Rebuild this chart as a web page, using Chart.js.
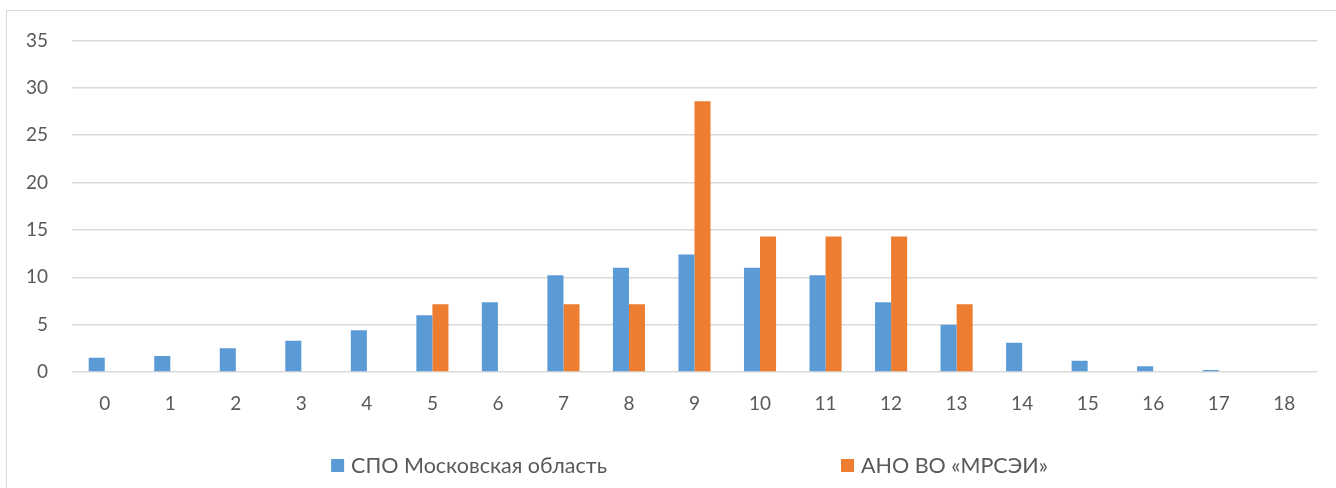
<!DOCTYPE html>
<html>
<head>
<meta charset="utf-8">
<script src="https://cdn.jsdelivr.net/npm/chart.js@4/dist/chart.umd.min.js"></script>
<style>
    html, body { margin: 0; padding: 0; background: #fff; overflow: hidden; }
    #frame {
        position: absolute;
        left: 6px;
        top: 10px;
        width: 1340px;
        height: 490px;
        border: 1px solid #d9d9d9;
    }
    #box { position: absolute; left: 7px; top: 5px; width: 1329px; height: 483px; }
</style>
</head>
<body>
<div id="frame"></div>
<div id="box"><canvas id="chart"></canvas></div>
<script>
    // Scores 0..18, share of respondents, %
    const categories = ['0', '1', '2', '3', '4', '5', '6', '7', '8', '9', '10', '11', '12', '13', '14', '15', '16', '17', '18'];
    const seriesNames = ['СПО Московская область', 'АНО ВО «МРСЭИ»'];
    const spoValues = [1.5, 1.7, 2.5, 3.3, 4.4, 6.0, 7.35, 10.2, 11.0, 12.4, 11.0, 10.2, 7.35, 5.0, 3.1, 1.2, 0.6, 0.2, 0];
    const mrseiValues = [0, 0, 0, 0, 0, 7.14, 0, 7.14, 7.14, 28.57, 14.29, 14.29, 14.29, 7.14, 0, 0, 0, 0, 0];
    const yTicks = [0, 5, 10, 15, 20, 25, 30, 35];

    const textColor = '#595959';
    const gridColor = '#d9d9d9';

    // legend drawn like Excel: two items spread wide under the plot
    const wideLegend = {
        id: 'wideLegend',
        afterDraw(chart) {
            const { ctx, chartArea } = chart;
            const box = 13, gapText = 7, gapItems = 234;
            ctx.save();
            ctx.font = '21.5px Lato';
            ctx.textBaseline = 'middle';
            const items = chart.data.datasets.map(ds => ({
                text: ds.label,
                color: ds.backgroundColor,
                w: box + gapText + ctx.measureText(ds.label).width
            }));
            const total = items.reduce((s, it) => s + it.w, 0) + gapItems * (items.length - 1);
            let x = (chartArea.left + chartArea.right) / 2 - total / 2 - 5;
            const y = chartArea.bottom + 93.5;
            items.forEach(it => {
                ctx.fillStyle = it.color;
                ctx.fillRect(x, y - box / 2, box, box);
                ctx.fillStyle = textColor;
                ctx.fillText(it.text, x + box + gapText, y + 1);
                x += it.w + gapItems;
            });
            ctx.restore();
        }
    };

    new Chart(document.getElementById('chart'), {
        type: 'bar',
        data: {
            labels: categories,
            datasets: [
                {
                    label: seriesNames[0],
                    data: spoValues,
                    backgroundColor: '#5b9bd5',
                    categoryPercentage: 0.49,
                    barPercentage: 1.0
                },
                {
                    label: seriesNames[1],
                    data: mrseiValues,
                    backgroundColor: '#ed7d31',
                    categoryPercentage: 0.49,
                    barPercentage: 1.0
                }
            ]
        },
        options: {
            responsive: true,
            maintainAspectRatio: false,
            animation: false,
            layout: { padding: { top: 0, right: 19, bottom: 62, left: 0 } },
            plugins: {
                legend: { display: false },
                tooltip: { enabled: false }
            },
            scales: {
                x: {
                    grid: { display: false },
                    border: { display: false },
                    ticks: {
                        font: { family: 'Lato', size: 19 },
                        color: textColor,
                        padding: 12,
                        maxRotation: 0
                    },
                    afterFit: s => { s.height = 54; }
                },
                y: {
                    min: 0,
                    max: 35,
                    afterBuildTicks: s => { s.ticks = yTicks.map(v => ({ value: v })); },
                    grid: { color: gridColor, lineWidth: 1.5, drawTicks: false },
                    border: { display: false },
                    ticks: {
                        font: { family: 'Lato', size: 19 },
                        color: textColor,
                        padding: 24
                    },
                    afterFit: s => { s.width = 65; }
                }
            }
        },
        plugins: [wideLegend]
    });
</script>
</body>
</html>
